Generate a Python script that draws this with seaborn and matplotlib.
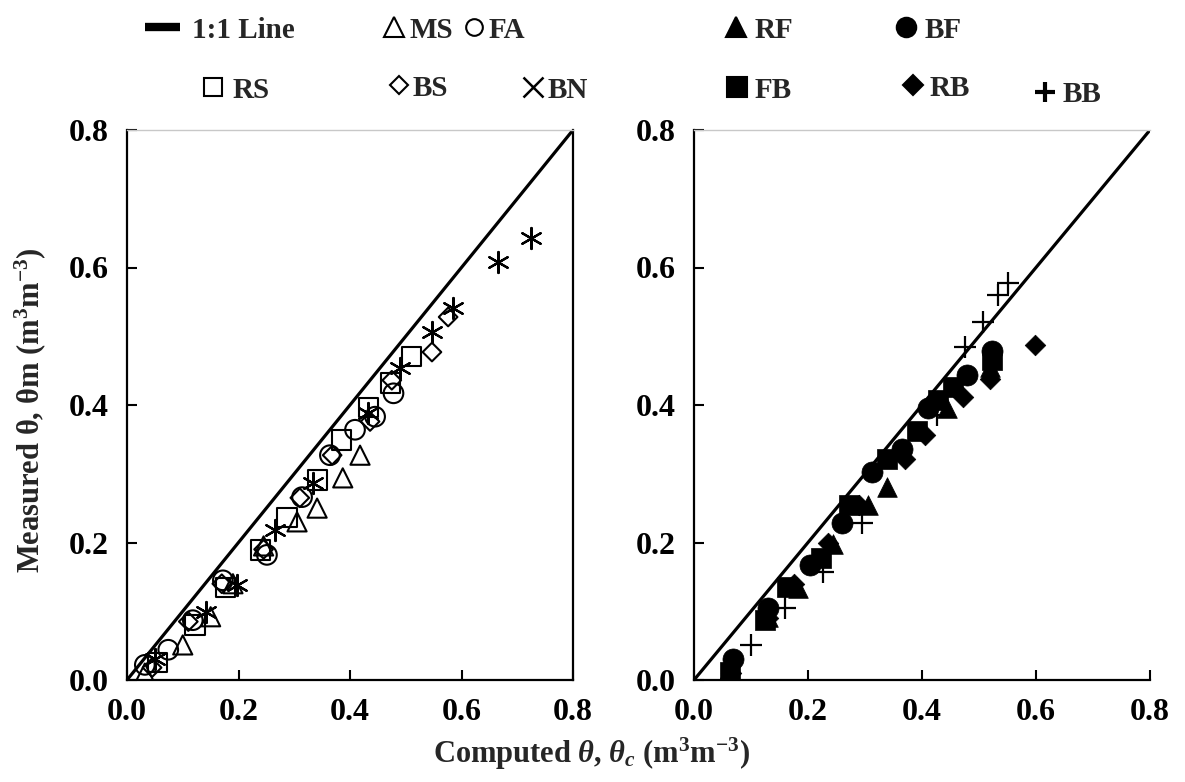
import matplotlib
matplotlib.use("Agg")
import matplotlib.pyplot as plt
from matplotlib.lines import Line2D
from matplotlib.ticker import FormatStrFormatter
import seaborn as sns

# ---------------- data (left panel: open markers) ----------------
ms_x = [0.032, 0.100, 0.150, 0.190, 0.245, 0.305, 0.341, 0.387, 0.418]
ms_y = [0.010, 0.051, 0.092, 0.140, 0.195, 0.230, 0.250, 0.294, 0.327]

fa_x = [0.032, 0.074, 0.118, 0.172, 0.251, 0.314, 0.364, 0.409, 0.445, 0.478]
fa_y = [0.022, 0.044, 0.087, 0.145, 0.182, 0.266, 0.327, 0.364, 0.383, 0.417]

rs_x = [0.054, 0.122, 0.176, 0.239, 0.287, 0.341, 0.385, 0.433, 0.472, 0.511]
rs_y = [0.025, 0.080, 0.134, 0.189, 0.236, 0.291, 0.349, 0.396, 0.432, 0.470]

bs_x = [0.045, 0.110, 0.170, 0.245, 0.310, 0.368, 0.436, 0.475, 0.547, 0.576]
bs_y = [0.018, 0.085, 0.140, 0.190, 0.265, 0.327, 0.376, 0.436, 0.477, 0.528]

bn_x = [0.050, 0.142, 0.197, 0.266, 0.334, 0.433, 0.490, 0.547, 0.585, 0.666, 0.724]
bn_y = [0.030, 0.099, 0.138, 0.218, 0.287, 0.388, 0.454, 0.506, 0.541, 0.608, 0.643]

# ---------------- data (right panel: filled markers) ----------------
rf_x = [0.060, 0.130, 0.183, 0.244, 0.305, 0.339, 0.443, 0.520]
rf_y = [0.012, 0.092, 0.134, 0.198, 0.255, 0.281, 0.396, 0.455]

bf_x = [0.068, 0.130, 0.204, 0.260, 0.312, 0.365, 0.410, 0.479, 0.523]
bf_y = [0.030, 0.105, 0.167, 0.228, 0.303, 0.336, 0.396, 0.444, 0.478]

fb_x = [0.063, 0.125, 0.163, 0.222, 0.272, 0.339, 0.391, 0.428, 0.455, 0.523]
fb_y = [0.012, 0.087, 0.135, 0.178, 0.255, 0.321, 0.362, 0.408, 0.426, 0.466]

rb_x = [0.065, 0.130, 0.175, 0.235, 0.290, 0.370, 0.405, 0.472, 0.519, 0.598]
rb_y = [0.010, 0.090, 0.140, 0.200, 0.255, 0.322, 0.357, 0.412, 0.438, 0.487]

bb_x = [0.100, 0.160, 0.226, 0.295, 0.426, 0.475, 0.507, 0.533, 0.551]
bb_y = [0.051, 0.105, 0.157, 0.229, 0.386, 0.484, 0.521, 0.560, 0.577]

line_x = [0.0, 0.8]
line_y = [0.0, 0.8]

ticks = [0.0, 0.2, 0.4, 0.6, 0.8]

# ---------------- style ----------------
sns.set_style("ticks")
plt.rcParams["font.family"] = ["Liberation Serif", "DejaVu Serif"]
plt.rcParams["font.weight"] = "bold"
plt.rcParams["mathtext.fontset"] = "custom"
plt.rcParams["mathtext.rm"] = "Liberation Serif:bold"
plt.rcParams["mathtext.it"] = "Liberation Serif:italic:bold"
plt.rcParams["mathtext.bf"] = "Liberation Serif:bold"
plt.rcParams["mathtext.default"] = "rm"

W, H = 1185, 782
FS_TICK = 23
FS_LAB = 22
FS_LEG = 21
fig = plt.figure(figsize=(W / 100, H / 100), dpi=100)
fig.patch.set_facecolor("white")

axL = fig.add_axes([127 / W, 1 - 680 / H, 446 / W, 550 / H])
axR = fig.add_axes([694 / W, 1 - 680 / H, 456 / W, 550 / H])

open_kw = dict(facecolor="none", edgecolor="black", linewidth=1.5, color="black")
fill_kw = dict(color="black", edgecolor="black", linewidth=0.5)

# left panel
sns.lineplot(x=line_x, y=line_y, ax=axL, color="black", linewidth=2.3)
sns.scatterplot(x=ms_x, y=ms_y, ax=axL, marker="^", s=190, **open_kw)
sns.scatterplot(x=fa_x, y=fa_y, ax=axL, marker="o", s=200, **open_kw)
sns.scatterplot(x=rs_x, y=rs_y, ax=axL, marker="s", s=190, **open_kw)
sns.scatterplot(x=bs_x, y=bs_y, ax=axL, marker="D", s=90, **open_kw)
sns.scatterplot(x=bn_x, y=bn_y, ax=axL, marker=(6, 2, 0), s=230, color="black", linewidth=1.6)

# right panel
sns.lineplot(x=line_x, y=line_y, ax=axR, color="black", linewidth=2.3)
sns.scatterplot(x=rf_x, y=rf_y, ax=axR, marker="^", s=200, **fill_kw)
sns.scatterplot(x=bf_x, y=bf_y, ax=axR, marker="o", s=230, **fill_kw)
sns.scatterplot(x=fb_x, y=fb_y, ax=axR, marker="s", s=200, **fill_kw)
sns.scatterplot(x=rb_x, y=rb_y, ax=axR, marker="D", s=110, **fill_kw)
sns.scatterplot(x=bb_x, y=bb_y, ax=axR, marker="+", s=230, color="black", linewidth=1.6)

for ax in (axL, axR):
    ax.set_xlim(0, 0.8)
    ax.set_ylim(0, 0.8)
    ax.set_xticks(ticks)
    ax.set_yticks(ticks)
    ax.xaxis.set_major_formatter(FormatStrFormatter("%.1f"))
    ax.yaxis.set_major_formatter(FormatStrFormatter("%.1f"))
    ax.tick_params(direction="in", length=7, width=1.5, labelsize=FS_TICK, colors="black")
    ax.tick_params(axis="x", pad=13)
    ax.tick_params(axis="y", pad=13)
    ax.set_xlabel("")
    ax.set_ylabel("")
    for sp in ("left", "bottom"):
        ax.spines[sp].set_linewidth(1.6)
        ax.spines[sp].set_color("black")
    ax.spines["top"].set_color("#c8c8c8")
    ax.spines["top"].set_linewidth(1.0)
    ax.set_facecolor("white")
    ax.grid(False)
    for lab in ax.get_xticklabels() + ax.get_yticklabels():
        lab.set_fontweight("bold")

axL.spines["right"].set_linewidth(1.6)
axL.spines["right"].set_color("black")
axR.spines["right"].set_visible(False)

# axis titles
fig.text(30 / W, 1 - 410 / H, r"Measured θ, θm (m$^{3}$m$^{-3}$)", rotation=90,
         ha="center", va="center", fontsize=FS_LAB, fontweight="bold")
fig.text(592 / W, 1 - 754 / H,
         r"Computed $\mathit{\theta}$, $\mathit{\theta_c}$ (m$^{3}$m$^{-3}$)",
         ha="center", va="center", fontsize=FS_LAB, fontweight="bold")

# ---------------- legend entries ----------------
fs_px = FS_LEG * 100 / 72


def add_entry(handle, label, cx, cy, text_x, hl=1.0):
    left = cx - hl * fs_px / 2
    pad = (text_x - cx - hl * fs_px / 2) / fs_px
    fig.legend(handles=[handle], labels=[label], loc="center left",
               bbox_to_anchor=(left / W, 1 - cy / H), frameon=False,
               handlelength=hl, handletextpad=pad, borderpad=0,
               borderaxespad=0, prop={"size": FS_LEG, "weight": "bold"})


def mk(marker, filled, ms=12, mew=1.5):
    return Line2D([], [], ls="none", marker=marker, ms=ms, mew=mew,
                  mfc="black" if filled else "none", mec="black", color="black")


add_entry(Line2D([], [], color="black", lw=6, solid_capstyle="butt"), "1:1 Line",
          162.5, 30, 192, hl=35 / fs_px)
add_entry(mk("^", False, 14), "MS", 394, 30, 410)
add_entry(mk("o", False, 12), "FA", 474, 30, 489)
add_entry(mk("^", True, 14), "RF", 736, 30, 755)
add_entry(mk("o", True, 14), "BF", 906, 30, 925)
add_entry(mk("s", False, 13), "RS", 213, 90, 233)
add_entry(mk("D", False, 9), "BS", 399, 88, 413)
add_entry(mk("x", False, 14, 1.8), "BN", 533, 90, 548)
add_entry(mk("s", True, 15), "FB", 737, 90, 755)
add_entry(mk("D", True, 10), "RB", 913, 88, 930)
add_entry(mk("+", False, 15, 3.0), "BB", 1045, 95, 1063)

fig.savefig("out.png", dpi=100, facecolor="white")
